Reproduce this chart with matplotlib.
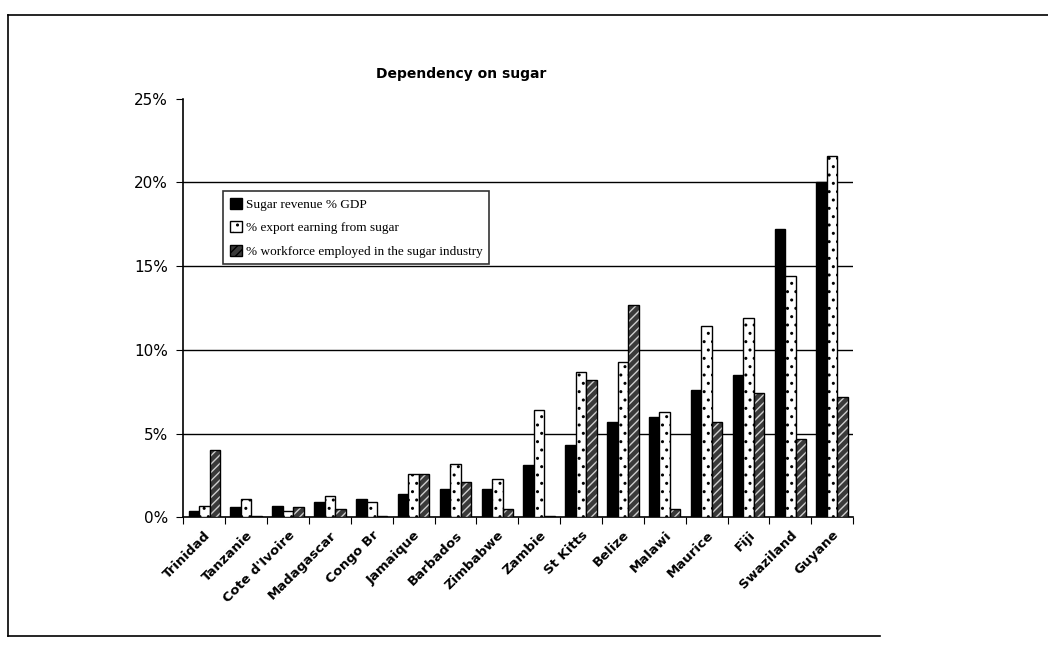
import matplotlib.pyplot as plt
import numpy as np
from matplotlib.lines import Line2D
from matplotlib.patches import Patch
from matplotlib.ticker import PercentFormatter

# ====== data ======
countries = ["Trinidad", "Tanzanie", "Cote d'Ivoire", "Madagascar", "Congo Br",
             "Jamaique", "Barbados", "Zimbabwe", "Zambie", "St Kitts", "Belize",
             "Malawi", "Maurice", "Fiji", "Swaziland", "Guyane"]
revenue_gdp = [0.4, 0.6, 0.7, 0.9, 1.1, 1.4, 1.7, 1.7, 3.1, 4.3, 5.7, 6.0, 7.6, 8.5, 17.2, 20.0]
export_earning = [0.7, 1.1, 0.4, 1.3, 0.9, 2.6, 3.2, 2.3, 6.4, 8.7, 9.3, 6.3, 11.4, 11.9, 14.4, 21.6]
workforce = [4.0, 0.1, 0.6, 0.5, 0.1, 2.6, 2.1, 0.5, 0.1, 8.2, 12.7, 0.5, 5.7, 7.4, 4.7, 7.2]
yticks = [0, 5, 10, 15, 20, 25]

# ====== plot ======
fig = plt.figure(figsize=(10.48, 6.45), dpi=100)
ax = fig.add_axes([0.175, 0.198, 0.639, 0.649])

x = np.arange(len(countries))
w = 0.25

ax.bar(x - w, revenue_gdp, w, color="black", edgecolor="black", lw=1, zorder=3)
ax.bar(x, export_earning, w, color="white", edgecolor="black", hatch="..", lw=1, zorder=3)
ax.bar(x + w, workforce, w, color="#3a3a3a", edgecolor="#cfcfcf", hatch="////", lw=0, zorder=3)
ax.bar(x + w, workforce, w, fill=False, edgecolor="black", lw=1, zorder=4)

ax.set_xlim(-0.5, len(countries) - 0.5)
ax.set_ylim(0, 25)
ax.set_yticks(yticks)
ax.yaxis.set_major_formatter(PercentFormatter(decimals=0))
ax.tick_params(axis="y", direction="out", length=5, labelsize=11, pad=6)

# x ticks at category boundaries, labels at centers
ax.set_xticks(np.arange(len(countries) + 1) - 0.5)
ax.set_xticklabels([])
ax.set_xticks(x, minor=True)
ax.set_xticklabels(countries, minor=True, rotation=45, ha="right",
                   rotation_mode="anchor", fontsize=9.5, fontweight="bold")
ax.tick_params(axis="x", which="major", direction="out", length=5)
ax.tick_params(axis="x", which="minor", length=0, pad=8)

for v in yticks[1:-1]:
    ax.axhline(v, color="black", lw=1, zorder=1)

ax.spines["top"].set_visible(False)
ax.spines["right"].set_visible(False)
ax.spines["left"].set_linewidth(1.2)
ax.spines["bottom"].set_linewidth(1.2)

fig.text(0.44, 0.885, "Dependency on sugar", ha="center", va="center",
         fontsize=10, fontweight="bold")

handles = [
    Patch(facecolor="black", edgecolor="black"),
    Patch(facecolor="white", edgecolor="black", hatch=".."),
    Patch(facecolor="#3a3a3a", edgecolor="black", hatch="////"),
]
labels = ["Sugar revenue % GDP", "% export earning from sugar",
          "% workforce employed in the sugar industry"]
leg = ax.legend(handles, labels, loc="upper left", bbox_to_anchor=(0.05, 0.795),
                prop={"family": "Liberation Serif", "size": 9.5},
                frameon=True, fancybox=False, edgecolor="black",
                handlelength=0.9, handleheight=0.9, handletextpad=0.3,
                borderpad=0.5, labelspacing=0.8)
leg.get_frame().set_linewidth(1.2)
leg.set_zorder(5)

# scanned page border
fig.add_artist(Line2D([0.008, 1.0], [0.977, 0.977], color="black", lw=1.2))
fig.add_artist(Line2D([0.008, 0.008], [0.014, 0.977], color="black", lw=1.2))
fig.add_artist(Line2D([0.008, 0.84], [0.014, 0.014], color="black", lw=1.2))

plt.savefig("out.png", dpi=100)
plt.close()
